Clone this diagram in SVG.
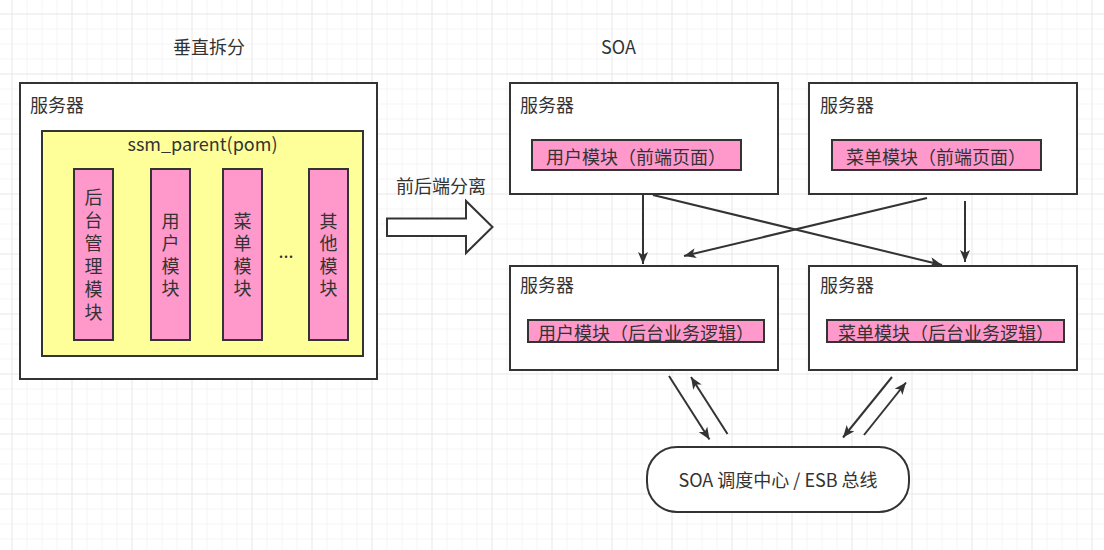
<svg xmlns="http://www.w3.org/2000/svg" width="1104" height="550" viewBox="0 0 1104 550">
<defs>
<style>
text{font-family:"Noto Sans CJK SC","Noto Sans",sans-serif;font-size:18px;fill:#333;}
.box{fill:#fff;stroke:#333;stroke-width:2;}
.pink{fill:#ff99cc;stroke:#333;stroke-width:2;}
.yellow{fill:#ffff99;stroke:#333;stroke-width:2;}
.edge{fill:none;stroke:#333;stroke-width:2;}
.c{text-anchor:middle;dominant-baseline:central;}
.l{dominant-baseline:central;}
.v{writing-mode:vertical-rl;text-orientation:upright;letter-spacing:4.5px;}
</style>
<pattern id="minor" x="11.5" y="13.5" width="15" height="15" patternUnits="userSpaceOnUse">
<path d="M0,0 H15 M0,0 V15" fill="none" stroke="#ebebeb" stroke-width="1"/>
</pattern>
<pattern id="major" x="11.5" y="13.5" width="60" height="60" patternUnits="userSpaceOnUse">
<path d="M0,0 H60 M0,0 V60" fill="none" stroke="#e0e0e0" stroke-width="1"/>
</pattern>
<marker id="arr" viewBox="0 0 12 10" refX="12" refY="5" markerWidth="12" markerHeight="10" markerUnits="userSpaceOnUse" orient="auto">
<path d="M0,0 L12,5 L0,10 L3,5 Z" fill="#333"/>
</marker>
</defs>
<rect width="1104" height="550" fill="#fff"/>
<rect width="1104" height="550" fill="url(#minor)"/>
<rect width="1104" height="550" fill="url(#major)"/>

<text x="173" y="46" class="l">垂直拆分</text>
<text x="601" y="46" class="l">SOA</text>

<g id="left-server">
<rect class="box" x="20" y="83" width="357" height="296"/>
<text x="30" y="104" class="l">服务器</text>
</g>
<g id="ssm-parent">
<rect class="yellow" x="42" y="131" width="321" height="225"/>
<text x="202.5" y="143" class="c">ssm_parent(pom)</text>
</g>
<g id="mod-admin">
<rect class="pink" x="74" y="169" width="39" height="171"/>
<text x="93.5" y="188" class="v" style="letter-spacing:5px">后台管理模块</text>
</g>
<g id="mod-user">
<rect class="pink" x="151" y="169" width="39" height="171"/>
<text x="170.5" y="212" class="v">用户模块</text>
</g>
<g id="mod-menu">
<rect class="pink" x="223" y="169" width="39" height="171"/>
<text x="242.5" y="212" class="v">菜单模块</text>
</g>
<g id="dots">
<text x="286" y="250" class="c">...</text>
</g>
<g id="mod-other">
<rect class="pink" x="309" y="169" width="39" height="171"/>
<text x="328.5" y="212" class="v">其他模块</text>
</g>

<g id="split-arrow">
<text x="441" y="185" class="c">前后端分离</text>
<path d="M387,218.5 H466 V201 L492.5,227 L466,253 V236 H387 Z" fill="#fff" stroke="#333" stroke-width="2"/>
</g>

<g id="server-user-front">
<rect class="box" x="510" y="83" width="268" height="111"/>
<text x="520" y="104" class="l">服务器</text>
<rect class="pink" x="532" y="140" width="209" height="30"/>
<text x="546" y="156" class="l">用户模块（前端页面）</text>
</g>
<g id="server-menu-front">
<rect class="box" x="809" y="83" width="268" height="111"/>
<text x="820" y="104" class="l">服务器</text>
<rect class="pink" x="832" y="140" width="209" height="30"/>
<text x="846" y="156" class="l">菜单模块（前端页面）</text>
</g>
<g id="server-user-back">
<rect class="box" x="510" y="266" width="268" height="104"/>
<text x="520" y="284" class="l">服务器</text>
<rect class="pink" x="528" y="320" width="236" height="22"/>
<text x="538" y="332" class="l">用户模块（后台业务逻辑）</text>
</g>
<g id="server-menu-back">
<rect class="box" x="809" y="266" width="268" height="104"/>
<text x="820" y="284" class="l">服务器</text>
<rect class="pink" x="827" y="320" width="237" height="22"/>
<text x="838" y="332" class="l">菜单模块（后台业务逻辑）</text>
</g>
<g id="soa-bus">
<rect class="box" x="647" y="447" width="262" height="65" rx="30" ry="30"/>
<text x="778" y="479" class="c">SOA 调度中心 / ESB 总线</text>
</g>

<g id="connectors">
<line class="edge" x1="643" y1="195" x2="643" y2="264" marker-end="url(#arr)"/>
<line class="edge" x1="653" y1="195" x2="942" y2="265" marker-end="url(#arr)"/>
<line class="edge" x1="927" y1="198" x2="684" y2="256" marker-end="url(#arr)"/>
<line class="edge" x1="965" y1="201" x2="965" y2="262" marker-end="url(#arr)"/>
<line class="edge" x1="669" y1="376" x2="709.5" y2="439.5" marker-end="url(#arr)"/>
<line class="edge" x1="727.5" y1="434" x2="691" y2="377" marker-end="url(#arr)"/>
<line class="edge" x1="892" y1="377" x2="843" y2="437.5" marker-end="url(#arr)"/>
<line class="edge" x1="864" y1="435" x2="906" y2="382.5" marker-end="url(#arr)"/>
</g>
</svg>
